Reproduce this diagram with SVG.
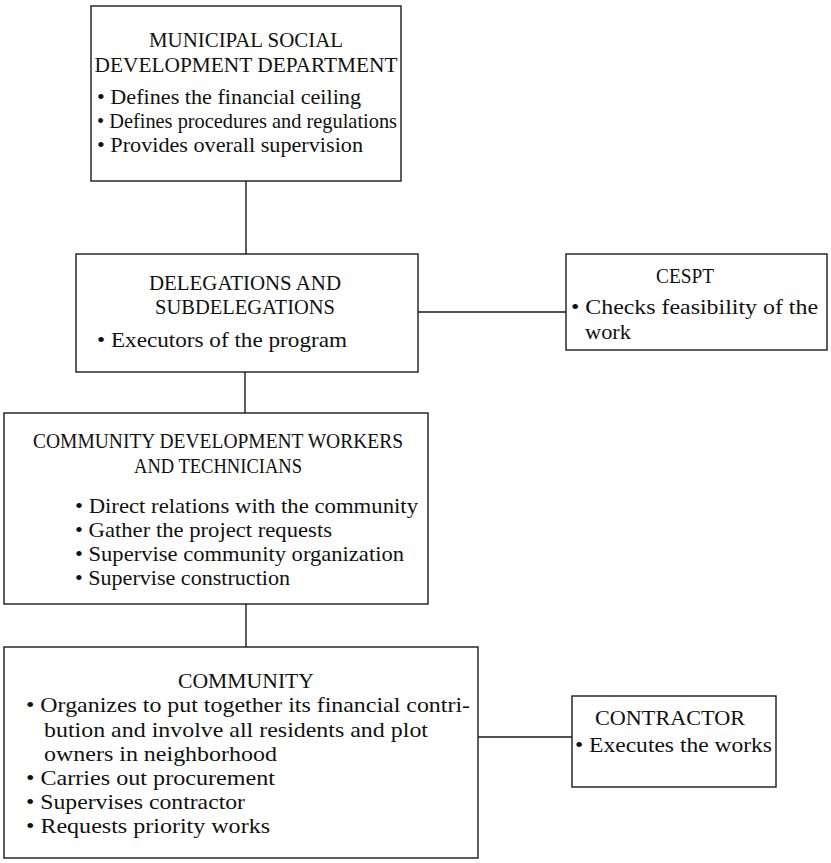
<svg xmlns="http://www.w3.org/2000/svg" width="831" height="863" viewBox="0 0 831 863">
  <style>
    .box { fill: #ffffff; stroke: #1a1a1a; stroke-width: 1.4; }
    .wire { fill: none; stroke: #1a1a1a; stroke-width: 1.4; }
    text { font-family: "Liberation Serif", "Times New Roman", serif; font-size: 22px; fill: #111111; }
    .title { text-anchor: middle; font-size: 20.5px; }
  </style>
  <rect width="831" height="863" fill="#ffffff"/>

  <!-- connectors -->
  <g id="connectors">
    <line class="wire" x1="246" y1="181" x2="246" y2="254"/>
    <line class="wire" x1="418" y1="312" x2="566" y2="312"/>
    <line class="wire" x1="245" y1="372" x2="245" y2="413"/>
    <line class="wire" x1="246" y1="604" x2="246" y2="647"/>
    <line class="wire" x1="478" y1="737" x2="572" y2="737"/>
  </g>

  <g id="municipal">
    <rect class="box" x="91" y="6" width="310" height="175"/>
    <text class="title" x="246" y="47" textLength="194" lengthAdjust="spacingAndGlyphs">MUNICIPAL SOCIAL</text>
    <text class="title" x="246" y="72" textLength="303" lengthAdjust="spacingAndGlyphs">DEVELOPMENT DEPARTMENT</text>
    <text x="97" y="104" textLength="264" lengthAdjust="spacingAndGlyphs">• Defines the financial ceiling</text>
    <text x="97" y="128" textLength="300" lengthAdjust="spacingAndGlyphs">• Defines procedures and regulations</text>
    <text x="97" y="152" textLength="266" lengthAdjust="spacingAndGlyphs">• Provides overall supervision</text>
  </g>

  <g id="delegations">
    <rect class="box" x="76" y="254" width="342" height="118"/>
    <text class="title" x="245" y="290" textLength="192" lengthAdjust="spacingAndGlyphs">DELEGATIONS AND</text>
    <text class="title" x="245" y="314" textLength="180" lengthAdjust="spacingAndGlyphs">SUBDELEGATIONS</text>
    <text x="97" y="347" textLength="250" lengthAdjust="spacingAndGlyphs">• Executors of the program</text>
  </g>

  <g id="cespt">
    <rect class="box" x="566" y="254" width="261" height="96"/>
    <text class="title" x="685" y="283" textLength="58" lengthAdjust="spacingAndGlyphs">CESPT</text>
    <text x="571" y="314" textLength="247" lengthAdjust="spacingAndGlyphs">• Checks feasibility of the</text>
    <text x="585" y="339" textLength="46" lengthAdjust="spacingAndGlyphs">work</text>
  </g>

  <g id="workers">
    <rect class="box" x="4" y="413" width="424" height="191"/>
    <text class="title" x="218" y="448" textLength="370" lengthAdjust="spacingAndGlyphs">COMMUNITY DEVELOPMENT WORKERS</text>
    <text class="title" x="218" y="473" textLength="168" lengthAdjust="spacingAndGlyphs">AND TECHNICIANS</text>
    <text x="75" y="513" textLength="343" lengthAdjust="spacingAndGlyphs">• Direct relations with the community</text>
    <text x="75" y="537" textLength="257" lengthAdjust="spacingAndGlyphs">• Gather the project requests</text>
    <text x="75" y="561" textLength="329" lengthAdjust="spacingAndGlyphs">• Supervise community organization</text>
    <text x="75" y="585" textLength="215" lengthAdjust="spacingAndGlyphs">• Supervise construction</text>
  </g>

  <g id="community">
    <rect class="box" x="4" y="647" width="474" height="211"/>
    <text class="title" x="246" y="688" textLength="136" lengthAdjust="spacingAndGlyphs">COMMUNITY</text>
    <text x="26" y="712" textLength="444" lengthAdjust="spacingAndGlyphs">• Organizes to put together its financial contri-</text>
    <text x="44" y="737" textLength="384" lengthAdjust="spacingAndGlyphs">bution and involve all residents and plot</text>
    <text x="44" y="761" textLength="233" lengthAdjust="spacingAndGlyphs">owners in neighborhood</text>
    <text x="26" y="785" textLength="249" lengthAdjust="spacingAndGlyphs">• Carries out procurement</text>
    <text x="26" y="809" textLength="219" lengthAdjust="spacingAndGlyphs">• Supervises contractor</text>
    <text x="26" y="833" textLength="244" lengthAdjust="spacingAndGlyphs">• Requests priority works</text>
  </g>

  <g id="contractor">
    <rect class="box" x="572" y="696" width="204" height="91"/>
    <text class="title" x="670" y="725" textLength="150" lengthAdjust="spacingAndGlyphs">CONTRACTOR</text>
    <text x="575" y="752" textLength="197" lengthAdjust="spacingAndGlyphs">• Executes the works</text>
  </g>
</svg>
